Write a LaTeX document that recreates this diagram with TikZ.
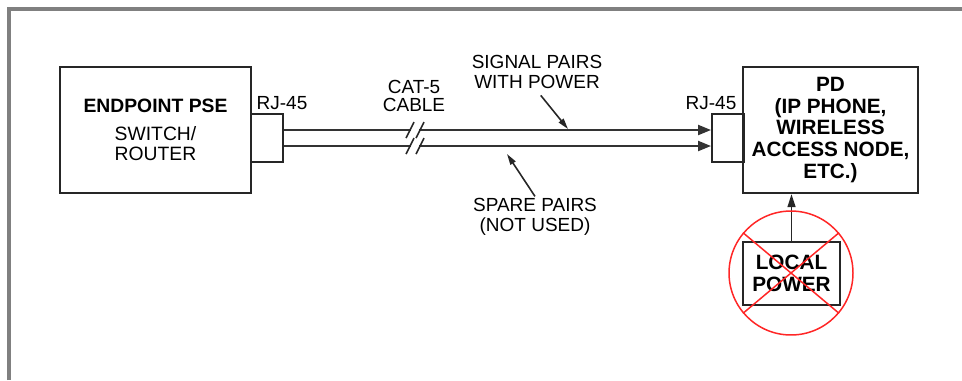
\documentclass[tikz,border=0pt]{standalone}
\usepackage{fontspec}
\setmainfont{Liberation Sans}
\usetikzlibrary{arrows.meta}

\begin{document}
\begin{tikzpicture}[x=0.02cm, y=-0.02cm,
    unit/.style={draw=black!85, line width=1.1pt, align=center, inner sep=0pt},
    jack/.style={draw=black!85, line width=1.1pt, minimum width=0.64cm, minimum height=0.96cm, inner sep=0pt},
    pair/.style={draw=black!80, line width=1.2pt, -{Triangle[length=0.26cm, width=0.2cm]}},
    callout/.style={draw=black!85, line width=0.9pt, -{Triangle[length=0.22cm, width=0.12cm]}},
    lbl/.style={font=\fontsize{10.8}{11.3}\selectfont, align=center, inner sep=1pt},
    ]
    \useasboundingbox (0,0) rectangle (962,380);
    % Rahmen oben und links
    \draw[black!50, line width=1.9pt] (9,380) -- (9,9) -- (962,9);

    % Einspeiser (PSE) mit Buchse
    \node[unit, minimum width=3.81cm, minimum height=2.53cm, font=\fontsize{11}{11.3}\selectfont] (pse) at (155.5,130)
        {\textbf{ENDPOINT PSE}\\[0.16cm] SWITCH/\\ ROUTER};
    \node[jack] (rjl) at (267,138) {};
    \node[lbl] (rjltxt) at (282,103) {RJ-45};

    % Endgeraet (PD) mit Buchse
    \node[unit, minimum width=3.5cm, minimum height=2.53cm, font=\fontsize{11.8}{12.5}\selectfont\bfseries] (pd) at (830.5,130)
        {PD\\(IP PHONE,\\WIRELESS\\ACCESS NODE,\\ETC.)};
    \node[jack] (rjr) at (728,138) {};
    \node[lbl] (rjrtxt) at (711,103) {RJ-45};

    % Kabel: obere und untere Adernpaare
    \draw[pair] ([yshift=0.16cm]rjl.east) -- ([yshift=0.16cm]rjr.west);
    \draw[pair] ([yshift=-0.16cm]rjl.east) -- ([yshift=-0.16cm]rjr.west);
    \node[lbl, font=\fontsize{10.8}{9.8}\selectfont] (cattxt) at (414,96) {CAT-5\\CABLE};
    % Unterbrechung //
    \foreach \yy in {130,146} {
        \draw[white, line width=3pt] (411,\yy) -- (419,\yy);
        \draw[black!85, line width=0.9pt] (406,{\yy+8}) -- (414,{\yy-8});
        \draw[black!85, line width=0.9pt] (416,{\yy+8}) -- (424,{\yy-8});
    }

    % Beschriftung der Adernpaare
    \node[lbl] (sigtxt) at (537,72) {SIGNAL PAIRS\\WITH POWER};
    \coordinate (sigtip) at (568,129);
    \draw[callout, shorten <=0.12cm] (sigtxt.south) -- (sigtip);
    \node[lbl] (sparetxt) at (535,217) {SPARE PAIRS\\(NOT USED)};
    \coordinate (sparetip) at (507,154);
    \draw[callout] (sparetxt.north) -- (sparetip);

    % Lokale Versorgung (entfaellt)
    \node[unit, minimum width=1.94cm, minimum height=1.26cm, font=\fontsize{11.8}{12.5}\selectfont\bfseries] (loc) at (791.5,273.5)
        {LOCAL\\POWER};
    \draw[callout, -{Triangle[length=0.26cm, width=0.16cm]}] (loc.north) -- (loc.north |- pd.south);
    \node[circle, draw=red!85, line width=0.85pt, minimum size=2.48cm, inner sep=0pt] (ban) at (791,273) {};
    \draw[red!85, line width=0.85pt] (ban.140) -- (ban.-40);
    \draw[red!85, line width=0.85pt] (ban.40) -- (ban.-140);
\end{tikzpicture}
\end{document}
